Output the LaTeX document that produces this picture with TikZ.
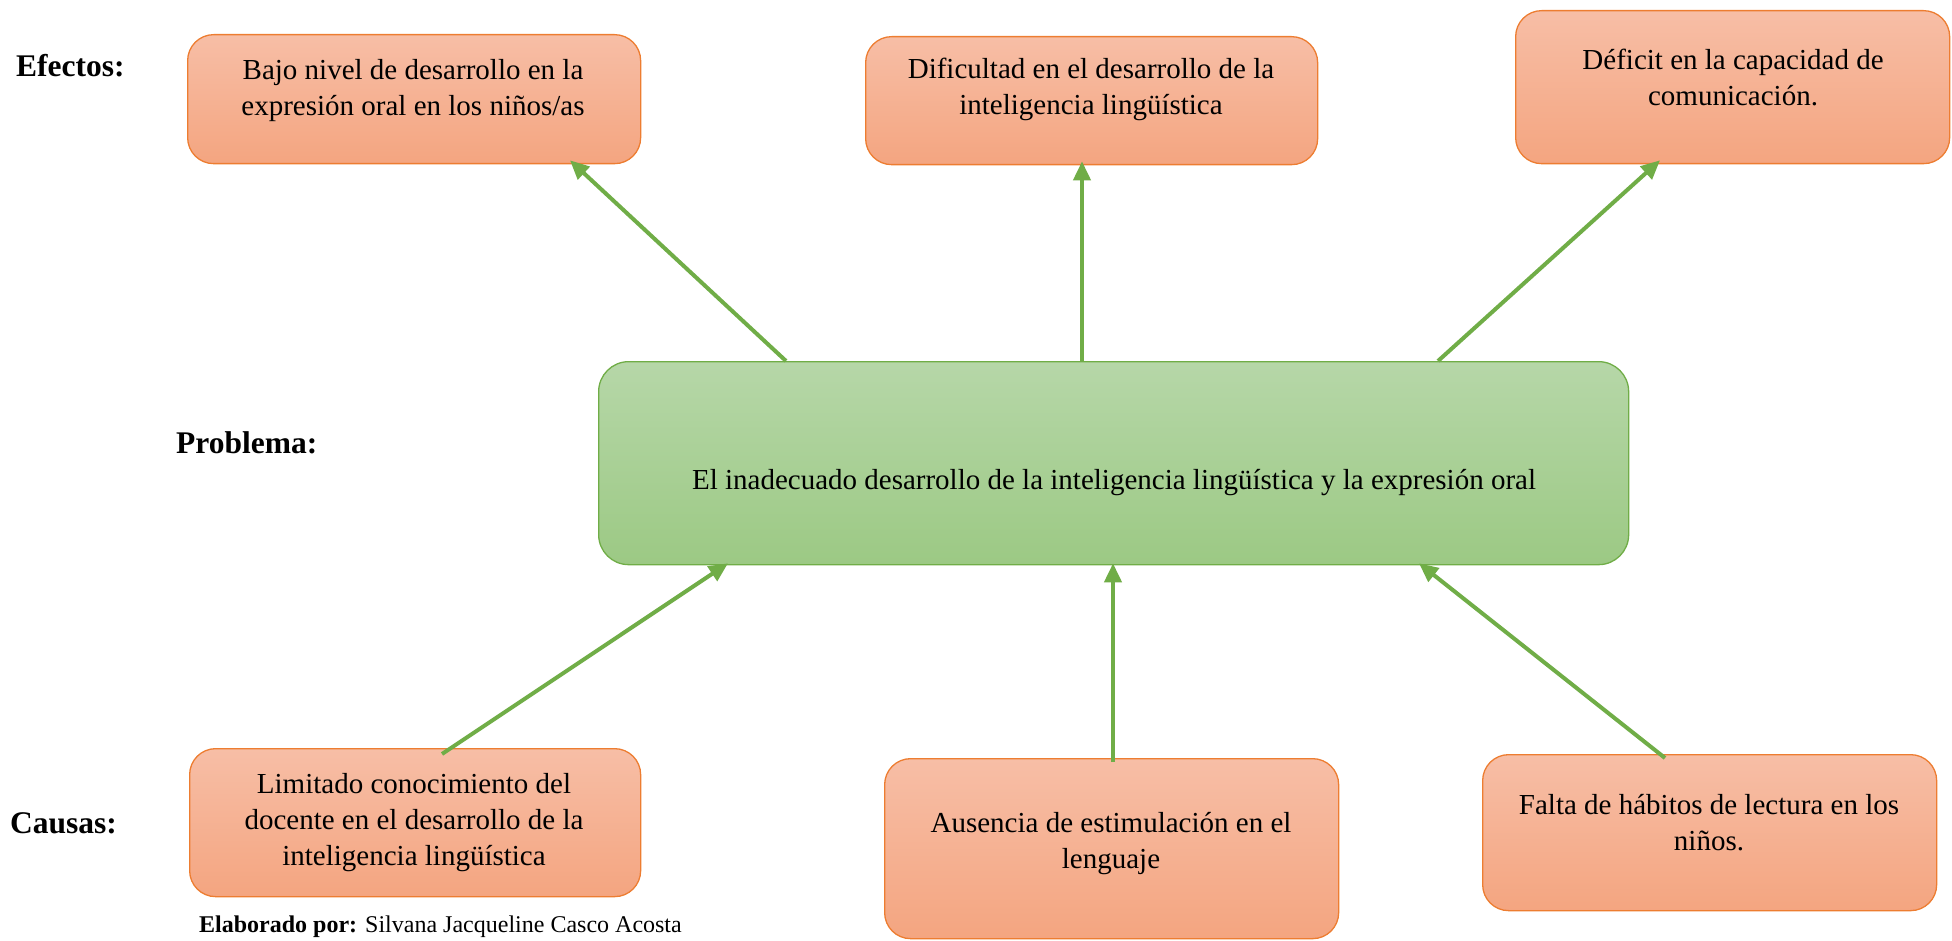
\documentclass[tikz,border=0pt]{standalone}
\usepackage{fontspec}
\setmainfont{Liberation Serif}
\usetikzlibrary{arrows.meta}
\definecolor{otop}{HTML}{F7BEA6}
\definecolor{obot}{HTML}{F4A580}
\definecolor{oline}{HTML}{ED7D31}
\definecolor{gtop}{HTML}{B6D7A8}
\definecolor{gbot}{HTML}{9CC984}
\definecolor{gline}{HTML}{70AD47}
\tikzset{
  obox/.style={draw=oline, line width=1.3pt, rounded corners=26pt, top color=otop, bottom color=obot, anchor=north west, inner sep=0pt},
  gbox/.style={draw=gline, line width=1.3pt, rounded corners=30pt, top color=gtop, bottom color=gbot, anchor=north west, inner sep=0pt},
  txt/.style={align=center, inner sep=0pt, font=\fontsize{29}{36}\selectfont},
  lbl/.style={inner sep=0pt, anchor=west, font=\fontsize{31.5}{36}\selectfont\bfseries},
  arr/.style={draw=gline, line width=4pt, -{Triangle[length=19pt,width=17pt]}}
}
\begin{document}
\begin{tikzpicture}[x=1pt,y=-1pt]
\useasboundingbox (0,0) rectangle (1952,941);
% effect boxes
\node[obox, minimum width=453pt, minimum height=129pt] (e1) at (187,34) {};
\node[obox, minimum width=452pt, minimum height=128pt] (e2) at (865,36) {};
\node[obox, minimum width=434pt, minimum height=153pt] (e3) at (1515,10) {};
% central problem
\node[gbox, minimum width=1030pt, minimum height=203pt] (ctr) at (598,361) {};
% cause boxes
\node[obox, minimum width=451pt, minimum height=148pt] (c1) at (189,748) {};
\node[obox, minimum width=454pt, minimum height=180pt] (c2) at (884,758) {};
\node[obox, minimum width=454pt, minimum height=156pt] (c3) at (1482,754) {};
% texts
\node[txt] (te1) at (413,91) {Bajo nivel de desarrollo en la\\expresión oral en los niños/as};
\node[txt] (te2) at (1091,89) {Dificultad en el desarrollo de la\\inteligencia lingüística};
\node[txt] (te3) at (1733,77) {Déficit en la capacidad de\\comunicación.};
\node[txt] (tc) at (1114,483) {El inadecuado desarrollo de la inteligencia lingüística y la expresión oral};
\node[txt] (tc1) at (414,823) {Limitado conocimiento del\\docente en el desarrollo de la\\inteligencia lingüística};
\node[txt] (tc2) at (1111,844) {Ausencia de estimulación en el\\lenguaje};
\node[txt] (tc3) at (1709,823) {Falta de hábitos de lectura en los\\niños.};
% side labels
\node[lbl] (lef) at (16,66) {Efectos:};
\node[lbl] (lpr) at (176,443) {Problema:};
\node[lbl] (lca) at (10,823) {Causas:};
\node[inner sep=0pt, anchor=west, font=\fontsize{24}{28}\selectfont] (elab) at (199,927) {\textbf{Elaborado por:} Silvana Jacqueline Casco Acosta};
% arrows
\draw[arr] (786,0 |- ctr.north) -- ([yshift=4pt]570,0 |- e1.south);
\draw[arr] (1082,0 |- ctr.north) -- ([yshift=4pt]1082,0 |- e2.south);
\draw[arr] (1438,0 |- ctr.north) -- ([yshift=4pt]1660,0 |- e3.south);
\draw[arr] ([yshift=-6pt]442,0 |- c1.north) -- ([yshift=2pt]728,0 |- ctr.south);
\draw[arr] ([yshift=-4pt]1113,0 |- c2.north) -- ([yshift=2pt]1113,0 |- ctr.south);
\draw[arr] ([yshift=-4pt]1665,0 |- c3.north) -- ([yshift=2pt]1419,0 |- ctr.south);
\end{tikzpicture}
\end{document}
